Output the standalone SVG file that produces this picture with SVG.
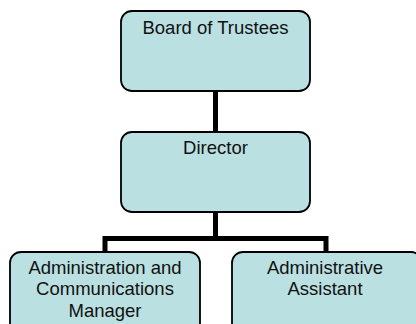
<svg xmlns="http://www.w3.org/2000/svg" width="416" height="324" viewBox="0 0 416 324">
<style>
.box{fill:#BAE0E2;stroke:#000;stroke-width:1.8}
.lbl{font-family:"Liberation Sans",Arial,sans-serif;font-size:18.5px;fill:#111;text-anchor:middle}
.conn{fill:none;stroke:#000;stroke-width:5}
</style>
<rect width="416" height="324" fill="#fff"/>
<g id="connectors">
<line class="conn" x1="215.5" y1="91" x2="215.5" y2="132"/>
<line class="conn" x1="215.5" y1="212" x2="215.5" y2="238.5"/>
<polyline class="conn" points="105,252 105,238.5 326,238.5 326,252"/>
</g>
<g id="board">
<rect class="box" x="121" y="11" width="189" height="80" rx="11"/>
<text class="lbl" x="215.5" y="33.5">Board of Trustees</text>
</g>
<g id="director">
<rect class="box" x="121" y="132" width="189" height="80" rx="11"/>
<text class="lbl" x="215.5" y="154">Director</text>
</g>
<g id="admin-comm-manager">
<rect class="box" x="10" y="252" width="190" height="90" rx="11"/>
<text class="lbl" x="105" y="273.5">Administration and</text>
<text class="lbl" x="105" y="295">Communications</text>
<text class="lbl" x="105" y="316.5">Manager</text>
</g>
<g id="admin-assistant">
<rect class="box" x="232" y="252" width="190" height="90" rx="11"/>
<text class="lbl" x="325" y="273.5">Administrative</text>
<text class="lbl" x="325" y="295">Assistant</text>
</g>
</svg>
